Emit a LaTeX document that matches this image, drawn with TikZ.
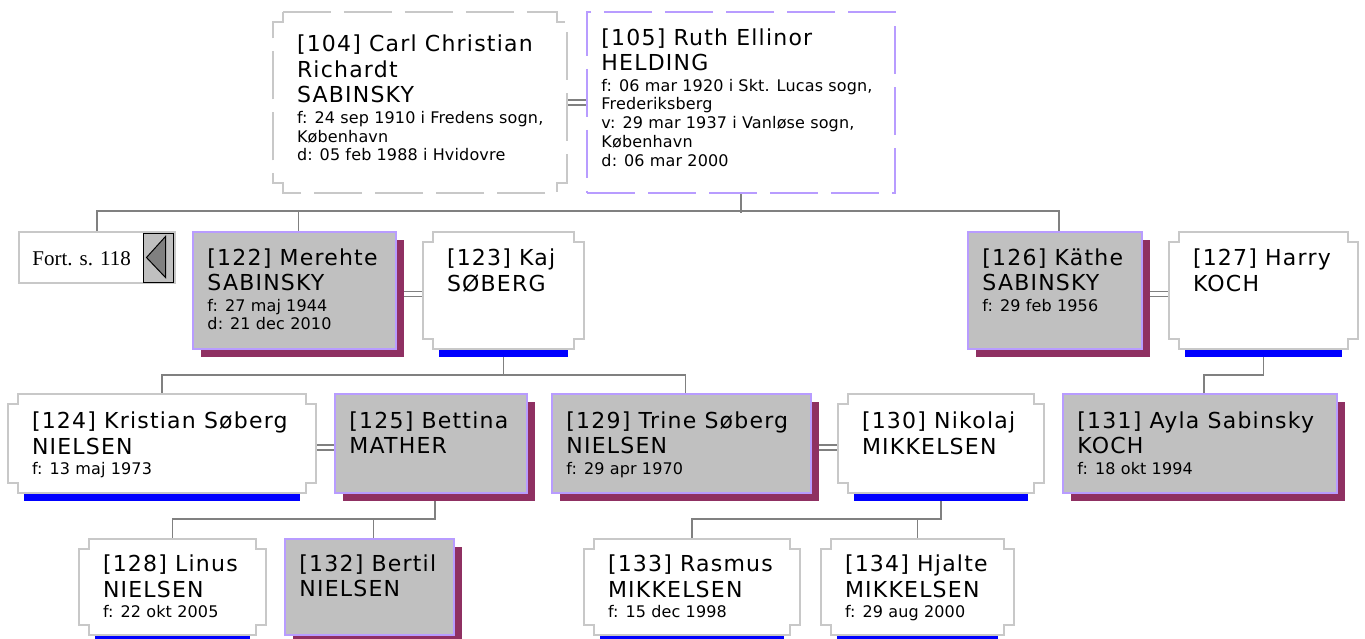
\documentclass[tikz,border=0pt]{standalone}
\usepackage{fontspec}
\setmainfont{DejaVu Sans}
\newfontfamily\namefont{DejaVu Sans}[LetterSpace=5.5]
\newfontfamily\datefont{DejaVu Sans}[LetterSpace=1]
\newfontfamily\fortfont{Liberation Serif}
\usetikzlibrary{shadows, backgrounds}

\definecolor{fsilver}{HTML}{C0C0C0}
\definecolor{flav}{HTML}{B89CFF}
\definecolor{fshadow}{HTML}{8F3062}
\definecolor{mgray}{HTML}{C8C8C8}
\definecolor{lnkgray}{HTML}{808080}
\definecolor{mblue}{HTML}{0000FF}

\newcommand{\sm}{\datefont\fontsize{16pt}{19pt}\selectfont}
\newcommand{\dfirst}{\\[-5pt]\sm}
\newcommand{\dnext}{\\[-6.7pt]\sm}
\newcommand{\notched}[1]{([xshift=10pt]#1.north west) -- ([xshift=-10pt]#1.north east)
  -- ++(0,10) -- ++(10,0) -- ([yshift=10pt]#1.south east) -- ++(-10,0) -- ++(0,10)
  -- ([xshift=10pt]#1.south west) -- ++(0,-10) -- ++(-10,0) -- ([yshift=-10pt]#1.north west)
  -- ++(10,0) -- cycle}

\begin{document}
\begin{tikzpicture}[
  x=1pt, y=-1pt,
  fembox/.style={draw=flav, line width=1.5pt, fill=fsilver,
    drop shadow={shadow xshift=8pt, shadow yshift=-8pt, fill=fshadow, opacity=1}},
  malebox/.style={inner sep=0pt},
  mline/.style={draw=mgray, line width=1.5pt, fill=white},
  dash48/.style={dash pattern=on 48pt off 13pt},
  txt/.style={anchor=north west, inner sep=0pt, align=left,
    font=\namefont\fontsize{22pt}{25.5pt}\selectfont,
    execute at begin node={\rule{0pt}{18pt}}},
  link/.style={draw=lnkgray, line width=1.8pt},
  marr/.style={draw=lnkgray, line width=1.4pt, double=white, double distance=3.5pt}
]
  \useasboundingbox (0,0) rectangle (1365,639);

  % parents
  \node[malebox, minimum width=294pt, minimum height=181pt] (p104) at (420,102.5) {};
  \node[draw=flav, line width=1.5pt, fill=white, dash48,
    minimum width=308pt, minimum height=181pt] (p105) at (741,102.5) {};

  % children
  \node[draw=mgray, line width=1.5pt, fill=white, minimum width=156pt, minimum height=51pt] (fort) at (97,257.5) {};
  \node[draw=black, line width=1pt, fill=fsilver, minimum width=30pt, minimum height=49pt] (btn) at (158,257.5) {};
  \draw[fill=lnkgray, line width=1pt] ([xshift=4pt]btn.west) -- ([shift={(-8,4)}]btn.north east)
    -- ([shift={(-8,-5)}]btn.south east) -- cycle;
  \node[fembox, minimum width=203pt, minimum height=117pt] (p122) at (294.5,290.5) {};
  \node[malebox, minimum width=161pt, minimum height=117pt] (p123) at (503.5,290.5) {};
  \node[fembox, minimum width=174pt, minimum height=117pt] (p126) at (1055,290.5) {};
  \node[malebox, minimum width=189pt, minimum height=117pt] (p127) at (1263.5,290.5) {};

  % grandchildren
  \node[malebox, minimum width=308pt, minimum height=99pt] (p124) at (162,443.5) {};
  \node[fembox, minimum width=192pt, minimum height=99pt] (p125) at (431,443.5) {};
  \node[fembox, minimum width=259pt, minimum height=99pt] (p129) at (681.5,443.5) {};
  \node[malebox, minimum width=206pt, minimum height=99pt] (p130) at (941,443.5) {};
  \node[fembox, minimum width=274pt, minimum height=99pt] (p131) at (1200,443.5) {};

  % great-grandchildren
  \node[malebox, minimum width=187pt, minimum height=96pt] (p128) at (172.5,587) {};
  \node[fembox, minimum width=169pt, minimum height=96pt] (p132) at (369.5,587) {};
  \node[malebox, minimum width=216pt, minimum height=96pt] (p133) at (692,587) {};
  \node[malebox, minimum width=193pt, minimum height=96pt] (p134) at (917.5,587) {};

  % notched outlines, blue bars
  \filldraw[mline, dash48] \notched{p104};
  \foreach \n in {p123,p127,p124,p130,p128,p133,p134}{
    \fill[mblue] ([xshift=16pt]\n.south west) rectangle ([shift={(-16,8)}]\n.south east);
    \filldraw[mline] \notched{\n};
  }

  % texts
  \node[anchor=base west, inner sep=0pt, font=\fortfont\fontsize{21pt}{25pt}\selectfont] (fortlbl)
    at ([shift={(14,34)}]fort.north west) {Fort. s. 118};
  \node[txt] (t104) at ([shift={(24,23)}]p104.north west) {[104] Carl Christian\\Richardt\\SABINSKY\dfirst
    f: 24 sep 1910 i Fredens sogn,\dnext København\dnext d: 05 feb 1988 i Hvidovre};
  \node[txt] (t105) at ([shift={(15,17)}]p105.north west) {[105] Ruth Ellinor\\HELDING\dfirst
    f: 06 mar 1920 i Skt. Lucas sogn,\dnext Frederiksberg\dnext v: 29 mar 1937 i Vanløse sogn,\dnext
    København\dnext d: 06 mar 2000};
  \node[txt] (t122) at ([shift={(15,17)}]p122.north west) {[122] Merehte\\SABINSKY\dfirst f: 27 maj 1944\dnext d: 21 dec 2010};
  \node[txt] (t123) at ([shift={(24,17)}]p123.north west) {[123] Kaj\\SØBERG};
  \node[txt] (t126) at ([shift={(15,17)}]p126.north west) {[126] Käthe\\SABINSKY\dfirst f: 29 feb 1956};
  \node[txt] (t127) at ([shift={(24,17)}]p127.north west) {[127] Harry\\KOCH};
  \node[txt] (t124) at ([shift={(24,18)}]p124.north west) {[124] Kristian Søberg\\NIELSEN\dfirst f: 13 maj 1973};
  \node[txt] (t125) at ([shift={(15,18)}]p125.north west) {[125] Bettina\\MATHER};
  \node[txt] (t129) at ([shift={(15,18)}]p129.north west) {[129] Trine Søberg\\NIELSEN\dfirst f: 29 apr 1970};
  \node[txt] (t130) at ([shift={(24,18)}]p130.north west) {[130] Nikolaj\\MIKKELSEN};
  \node[txt] (t131) at ([shift={(15,18)}]p131.north west) {[131] Ayla Sabinsky\\KOCH\dfirst f: 18 okt 1994};
  \node[txt] (t128) at ([shift={(24,16)}]p128.north west) {[128] Linus\\NIELSEN\dfirst f: 22 okt 2005};
  \node[txt] (t132) at ([shift={(15,16)}]p132.north west) {[132] Bertil\\NIELSEN};
  \node[txt] (t133) at ([shift={(24,16)}]p133.north west) {[133] Rasmus\\MIKKELSEN\dfirst f: 15 dec 1998};
  \node[txt] (t134) at ([shift={(24,16)}]p134.north west) {[134] Hjalte\\MIKKELSEN\dfirst f: 29 aug 2000};

  % connectors
  \begin{scope}[on background layer]
    \fill[white] (0,0) rectangle (1365,639);
    \draw[marr] (p104.east) -- (p105.west);
    \draw[link] (p105.south) -- ++(0,19);
    \draw[link] (fort.north) -- ++(0,-20) -| ([xshift=4pt]p126.north);
    \draw[link] ([xshift=4pt]p122.north) -- ++(0,-20);
    \draw[marr] ([yshift=-3.5pt]p122.east) -- ([yshift=-3.5pt]p123.west);
    \draw[marr] ([yshift=-3.5pt]p126.east) -- ([yshift=-3.5pt]p127.west);
    \draw[link] (p123.south) -- ++(0,26);
    \draw[link] (p124.north) -- ++(0,-19) -| ([xshift=4pt]p129.north);
    \draw[link] (p127.south) -- ++(0,26) -| ([xshift=4pt]p131.north);
    \draw[marr] ([yshift=-4pt]p124.east) -- ([yshift=-4pt]p125.west);
    \draw[marr] ([yshift=-4pt]p129.east) -- ([yshift=-4pt]p130.west);
    \draw[link] (p128.north) -- ++(0,-20) -| ([xshift=4pt]p125.south);
    \draw[link] ([xshift=4pt]p132.north) -- ++(0,-20);
    \draw[link] (p133.north) -- ++(0,-20) -| (p130.south);
    \draw[link] (p134.north) -- ++(0,-20);
  \end{scope}
\end{tikzpicture}
\end{document}
